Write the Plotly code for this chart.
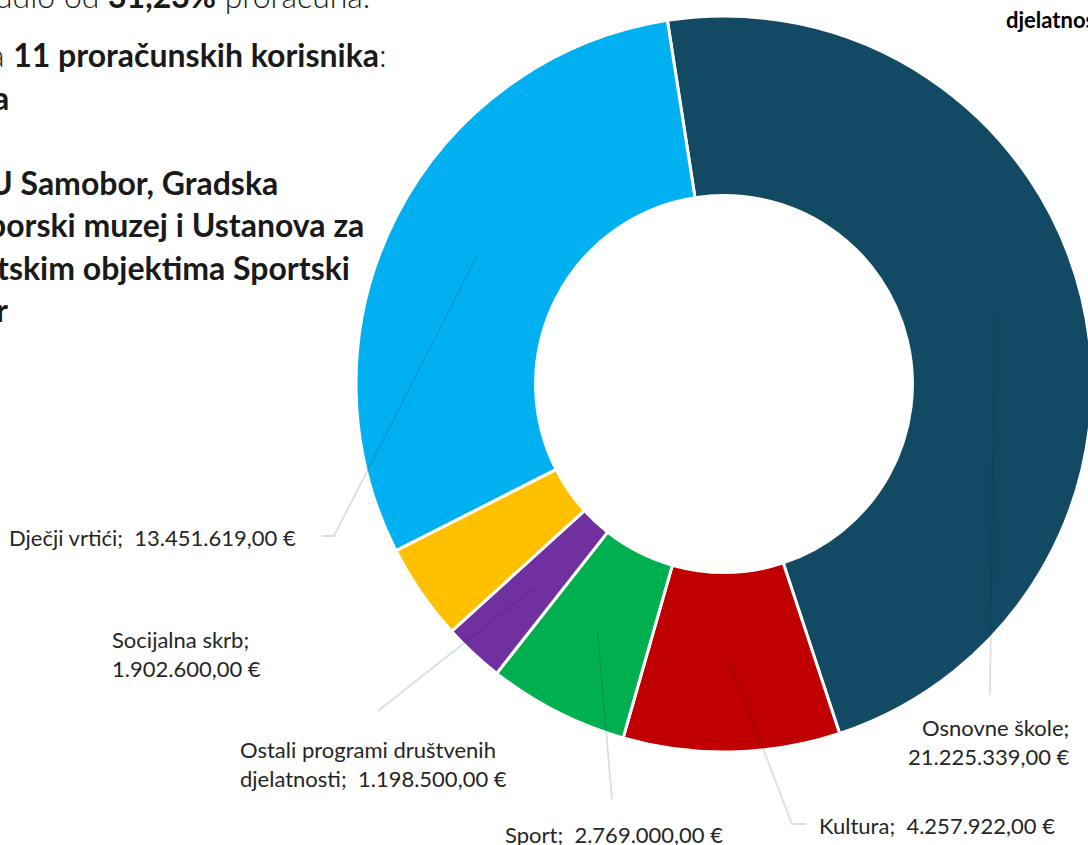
import math
import plotly.graph_objects as go

W, H = 1100, 845   # a bit wider than the window so the donut can run past the right edge

# data
categories = ["Osnovne škole", "Kultura", "Sport", "Ostali programi društvenih djelatnosti",
              "Socijalna skrb", "Dječji vrtići"]
values = [21225339, 4257922, 2769000, 1198500, 1902600, 13451619]
colors = ["#134A63", "#C00000", "#00B050", "#7030A0", "#FFC000", "#00B0F0"]

# slide text visible left of the chart (cut off by the crop)
slide_lines = [
    ("udio od <b>31,23%</b> proračuna.", 372, -4),
    ("a <b>11 proračunskih korisnika</b>:", 389, 54),
    ("<b>a</b>", 11, 97),
    ("<b>U Samobor, Gradska</b>", 280, 182),
    ("<b>borski muzej i Ustanova za</b>", 366, 224),
    ("<b>tskim objektima Sportski</b>", 352, 267),
    ("<b>r</b>", 10, 309),
]

# pie geometry (pixels)
cx, cy, R = 724, 384, 368
hole = 0.512
rotation = -8.85


def fmt_eur(v):
    s = f"{v:,.2f}".replace(",", "X").replace(".", ",").replace("X", ".")
    return s + " €"


def px(x):
    return x / W


def py(y):
    return 1 - y / H


def path_str(pts):
    return "M " + " L ".join(f"{px(x)},{py(y)}" for x, y in pts)


def exit_point(p0, p1):
    # where the segment p0 -> p1 leaves the outer circle of the donut
    dx, dy = p1[0] - p0[0], p1[1] - p0[1]
    fx, fy = p0[0] - cx, p0[1] - cy
    a = dx * dx + dy * dy
    b = 2 * (fx * dx + fy * dy)
    c = fx * fx + fy * fy - R * R
    t = (-b + math.sqrt(b * b - 4 * a * c)) / (2 * a)
    t = min(max(t, 0), 1)
    return p0[0] + t * dx, p0[1] + t * dy


fig = go.Figure()
fig.add_trace(go.Pie(
    labels=categories, values=values, sort=False, direction="clockwise",
    rotation=rotation, hole=hole, textinfo="none",
    marker=dict(colors=colors, line=dict(color="white", width=3)),
    domain=dict(x=[px(cx - R), px(cx + R)], y=[py(cy + R), py(cy - R)]),
    showlegend=False,
))

# mid angle of every slice -> start of its leader line
total = sum(values)
mids = []
acc = 0
for v in values:
    a = rotation + 360 * (acc + v / 2) / total
    acc += v
    mids.append(math.radians(a))
r_mid = R * (1 + hole) / 2
starts = [(cx + r_mid * math.sin(a), cy - r_mid * math.cos(a)) for a in mids]

# leader line bends / ends and label placement per category
leader_paths = {
    0: [(990, 695)],
    1: [(792, 824), (806, 824)],
    2: [(612, 799)],
    3: [(378, 711)],
    5: [(334, 536), (322, 536)],
}
label_pos = {
    0: (1072, 742, "right", ";<br>"),
    1: (817, 825, "left", ";\u00a0 "),
    2: (503, 834, "left", ";\u00a0 "),
    3: (238, 764, "left", ";\u00a0 "),
    4: (110, 654, "left", ";<br>"),
    5: (298, 537, "right", ";\u00a0 "),
}

for i, pts in leader_paths.items():
    p0 = starts[i]
    edge = exit_point(p0, pts[0])
    # part over the slice: darker translucent; part outside: light grey-blue
    fig.add_shape(type="path", path=path_str([p0, edge]), xref="paper", yref="paper",
                  line=dict(color="rgba(20,40,60,0.18)", width=1.5))
    fig.add_shape(type="path", path=path_str([edge] + pts), xref="paper", yref="paper",
                  line=dict(color="#D5E0E8", width=1.8))

for i, (x, y, anchor, sep) in label_pos.items():
    name = categories[i]
    if i == 3:
        name = "Ostali programi društvenih<br>djelatnosti"
    fig.add_annotation(x=px(x), y=py(y), xref="paper", yref="paper",
                       text=name + sep + fmt_eur(values[i]),
                       xanchor=anchor, yanchor="middle", align=anchor, showarrow=False,
                       font=dict(family="Lato", size=22, color="#262626"))

for text, xr, yc in slide_lines:
    fig.add_annotation(x=px(xr), y=py(yc), xref="paper", yref="paper", text=text,
                       xanchor="right", yanchor="middle", showarrow=False,
                       font=dict(family="Lato", size=32, color="#1A1A1A", weight=300))

fig.add_annotation(x=px(1004), y=py(19), xref="paper", yref="paper", text="<b>djelatnosti</b>",
                   xanchor="left", yanchor="middle", showarrow=False,
                   font=dict(family="Lato", size=22, color="#000000"))

fig.update_layout(
    width=W, height=H,
    margin=dict(l=0, r=0, t=0, b=0),
    paper_bgcolor="white",
    plot_bgcolor="white",
)

# page flush with the window corner, no scrollbars, no modebar
fig.write_html("out.html", config={"displayModeBar": False},
               post_script="document.body.style.margin='0';"
                           "document.body.style.overflow='hidden';")
